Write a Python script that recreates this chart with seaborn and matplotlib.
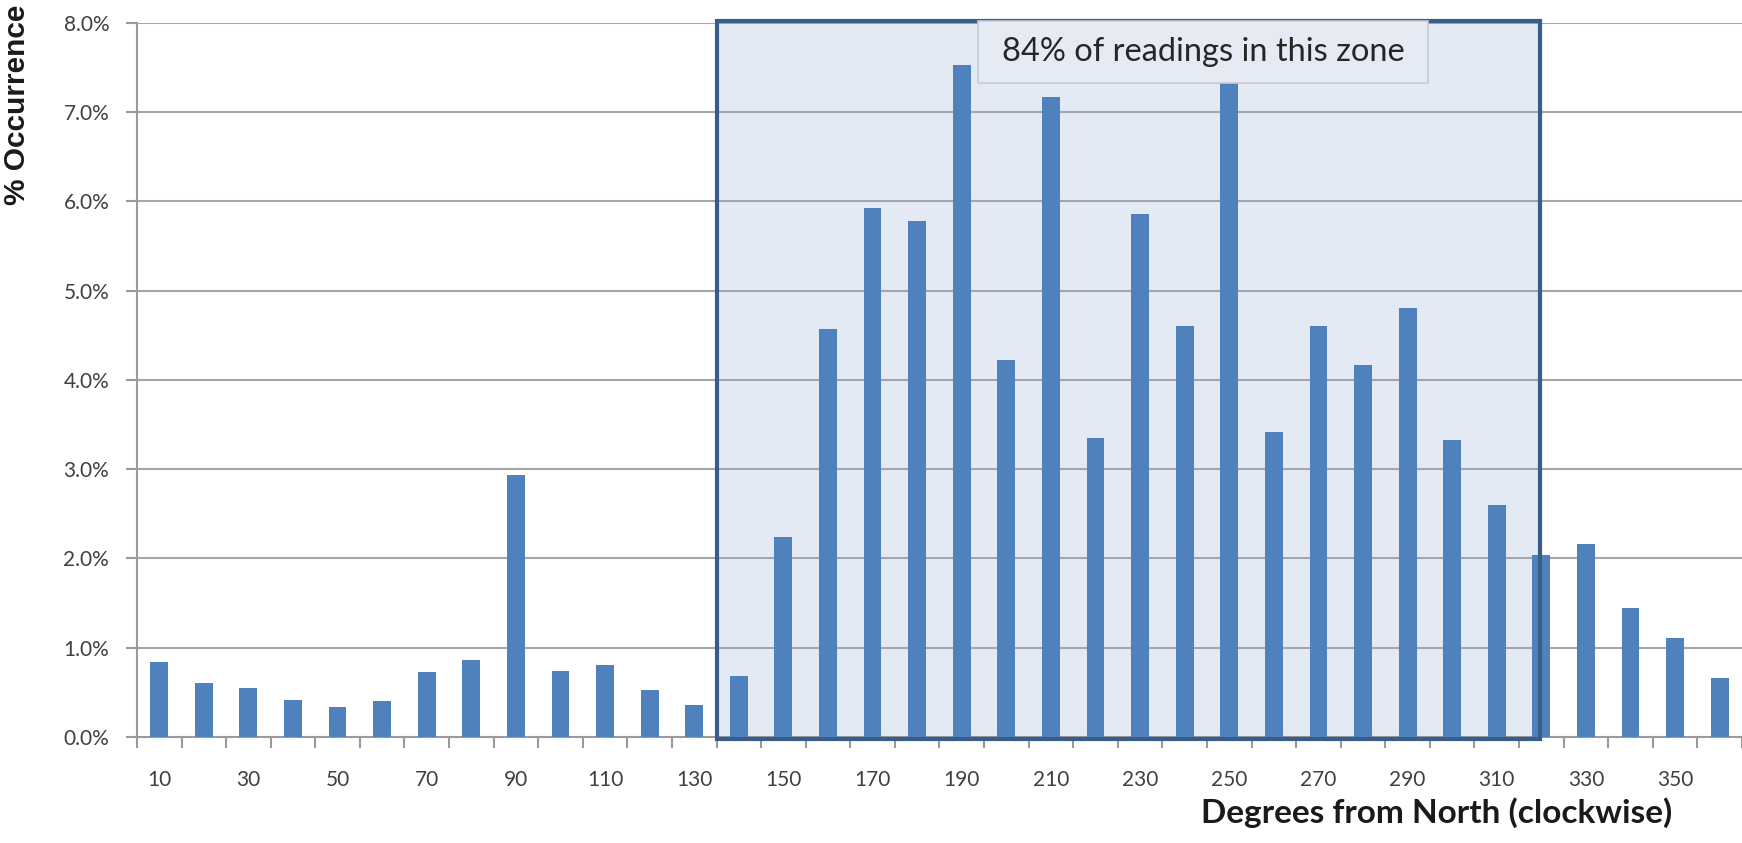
import numpy as np
import pandas as pd
import matplotlib
matplotlib.use("Agg")
import matplotlib.pyplot as plt
import seaborn as sns
from matplotlib.patches import Rectangle

degrees = [10, 20, 30, 40, 50, 60, 70, 80, 90, 100, 110, 120, 130, 140, 150, 160, 170, 180,
           190, 200, 210, 220, 230, 240, 250, 260, 270, 280, 290, 300, 310, 320, 330, 340, 350, 360]
occurrence = [0.84, 0.61, 0.55, 0.42, 0.34, 0.40, 0.73, 0.86, 2.93, 0.74, 0.81, 0.53, 0.36,
              0.68, 2.24, 4.57, 5.93, 5.78, 7.53, 4.22, 7.17, 3.35, 5.86, 4.60, 7.33, 3.42,
              4.60, 4.17, 4.80, 3.33, 2.60, 2.04, 2.16, 1.44, 1.11, 0.66]
y_ticks = [0, 1, 2, 3, 4, 5, 6, 7, 8]
zone_label = "84% of readings in this zone"
zone_start_deg, zone_end_deg = 135, 320

sns.set_theme(style="white")
plt.rcParams['font.family'] = ['Lato', 'DejaVu Sans']

df = pd.DataFrame({"deg": [str(d) for d in degrees], "pct": occurrence})

fig = plt.figure(figsize=(17.42, 8.43), dpi=100)
ax = fig.add_axes([0.0786, 0.1257, 0.9214, 0.8473])

bar_color = "#4F81BD"
sns.barplot(data=df, x="deg", y="pct", order=df["deg"], color=bar_color,
            width=0.4, saturation=1, ax=ax, zorder=3, edgecolor="none")

ax.set_xlim(-0.5, len(degrees) - 0.5)
ax.set_ylim(0, 8)

# zone (positions from category index)
zl = degrees.index(130) + 0.5
zr = degrees.index(zone_end_deg) - 0.04
ax.add_patch(Rectangle((zl, -0.02), zr - zl, 8.04, facecolor="#E4EAF4",
                       edgecolor="none", zorder=0.5, clip_on=False))
ax.add_patch(Rectangle((zl, -0.02), zr - zl, 8.04, facecolor="none",
                       edgecolor="#385D8A", linewidth=3, zorder=4, clip_on=False))

# label box
bx0, bx1 = 18.37, 28.46
ax.add_patch(Rectangle((bx0, 7.33), bx1 - bx0, 0.69, facecolor="#E6EBF3",
                       edgecolor="#C8CCD2", linewidth=1.2, zorder=5, clip_on=False))
ax.text((bx0 + bx1) / 2, 7.675, zone_label, ha="center", va="center",
        fontsize=23.5, color="#262626", zorder=6)

# grid
for yv in y_ticks[1:]:
    ax.axhline(yv, color="#A6A6A6", linewidth=1.5, zorder=1)

# spines
for s in ["top", "right"]:
    ax.spines[s].set_visible(False)
for s in ["left", "bottom"]:
    ax.spines[s].set_color("#9A9A9A")
    ax.spines[s].set_linewidth(1.5)
    ax.spines[s].set_zorder(2)

# x ticks: marks at category boundaries, labels every other category
ax.set_xticks(np.arange(-0.5, len(degrees), 1.0))
ax.set_xticklabels([])
ax.tick_params(axis="x", which="major", direction="out", length=8, width=1.5,
               color="#9A9A9A", bottom=True)
ax.set_xticks(np.arange(0, len(degrees), 2), minor=True)
ax.set_xticklabels([str(d) for d in degrees[::2]], minor=True)
ax.tick_params(axis="x", which="minor", length=0, pad=24, labelsize=15,
               labelcolor="#404040")

ax.set_yticks(y_ticks)
ax.set_yticklabels([f"{v:.1f}%" for v in y_ticks])
ax.tick_params(axis="y", direction="out", length=8, width=1.5, color="#9A9A9A",
               left=True, pad=12, labelsize=15, labelcolor="#404040")

ax.set_xlabel("")
ax.set_ylabel("")
fig.text(0.0098, 0.995, "% Occurrence", rotation=90, ha="center", va="top",
         fontsize=21.5, fontweight="bold", family=["Liberation Sans", "DejaVu Sans"],
         color="#1a1a1a")
fig.text(0.9598, 0.018, "Degrees from North (clockwise)", ha="right", va="bottom",
         fontsize=24, fontweight="bold", color="#1a1a1a")

fig.savefig("out.png", dpi=100)
